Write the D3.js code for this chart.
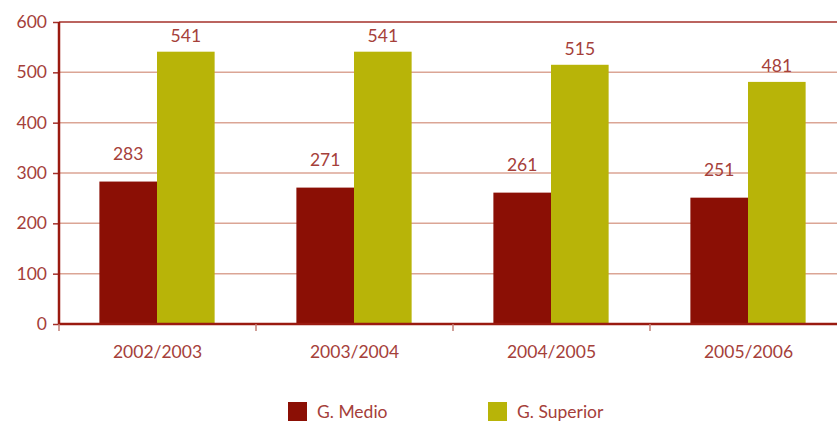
<!DOCTYPE html>
<html>
<head>
<meta charset="utf-8">
<script src="https://cdn.jsdelivr.net/npm/d3@7"></script>
<style>
body { margin: 0; background: #fff; overflow: hidden; }
svg text { font-family: "Lato", "Open Sans", sans-serif; fill: #a5403a; }
</style>
</head>
<body>
<div id="chart"></div>
<script>
var years = ["2002/2003", "2003/2004", "2004/2005", "2005/2006"];
var medio = [283, 271, 261, 251];
var superior = [541, 541, 515, 481];
var seriesNames = ["G. Medio", "G. Superior"];
var colors = ["#8b0f05", "#b8b408"];
var yTicks = [0, 100, 200, 300, 400, 500, 600];

var width = 837, height = 423;
var margin = { top: 22, right: 0, bottom: 99, left: 59 };
var w = width - margin.left - margin.right,
	h = height - margin.top - margin.bottom;
var plotW = 788; // plot runs a little past the right edge

var svg = d3.select("#chart").append("svg")
	.attr("width", width)
	.attr("height", height);

var g = svg.append("g")
	.attr("transform", "translate(" + margin.left + "," + margin.top + ")");

var x = d3.scaleBand()
	.domain(years)
	.range([0, plotW]);

var x1 = d3.scaleBand()
	.domain([0, 1])
	.range([x.bandwidth() * 0.205, x.bandwidth() * 0.79]);

var y = d3.scaleLinear()
	.domain([0, 600])
	.range([h, 0]);

// gridlines
g.append("g")
	.selectAll("line")
	.data(yTicks.slice(1, -1))
	.enter()
	.append("line")
	.attr("x1", 0).attr("x2", w)
	.attr("y1", function(d) { return y(d); })
	.attr("y2", function(d) { return y(d); })
	.style("stroke", "#dba595")
	.style("stroke-width", 1.5);

// top border
g.append("line")
	.attr("x1", 0).attr("x2", w)
	.attr("y1", y(600)).attr("y2", y(600))
	.style("stroke", "#a5302a")
	.style("stroke-width", 1.5);

// bars
var data = years.map(function(yr, i) { return { year: yr, values: [medio[i], superior[i]] }; });
var labelGap = [22, 10];

var groups = g.selectAll(".grp")
	.data(data)
	.enter()
	.append("g")
	.attr("class", "grp")
	.attr("transform", function(d) { return "translate(" + x(d.year) + ",0)"; });

groups.selectAll("rect")
	.data(function(d) { return d.values; })
	.enter()
	.append("rect")
	.attr("x", function(d, i) { return x1(i); })
	.attr("width", x1.bandwidth())
	.attr("y", function(d) { return y(d); })
	.attr("height", function(d) { return h - y(d); })
	.style("fill", function(d, i) { return colors[i]; });

groups.selectAll(".lbl")
	.data(function(d) { return d.values; })
	.enter()
	.append("text")
	.attr("class", "lbl")
	.attr("x", function(d, i) { return x1(i) + x1.bandwidth() / 2; })
	.attr("y", function(d, i) { return y(d) - labelGap[i]; })
	.attr("text-anchor", "middle")
	.style("font-size", "17.5px")
	.text(function(d) { return d; });

// y axis
var yAxis = g.append("g")
	.call(d3.axisLeft(y).tickValues(yTicks).tickSize(6).tickPadding(6));
yAxis.select(".domain").remove();
yAxis.selectAll("line").style("stroke", "#a5302a").style("stroke-width", 1.5);
yAxis.selectAll("text").style("font-size", "17.5px").style("fill", "#a5403a");

g.append("line")
	.attr("x1", 0).attr("x2", 0)
	.attr("y1", 0).attr("y2", h + 1)
	.style("stroke", "#9a1a10")
	.style("stroke-width", 2.5);

// x axis
var xAxisG = g.append("g")
	.attr("transform", "translate(0," + h + ")");

xAxisG.append("line")
	.attr("x1", 0).attr("x2", w)
	.style("stroke", "#9a1a10")
	.style("stroke-width", 2.5);

xAxisG.selectAll(".tk")
	.data(years)
	.enter()
	.append("line")
	.attr("class", "tk")
	.attr("x1", function(d) { return x(d); })
	.attr("x2", function(d) { return x(d); })
	.attr("y1", 0).attr("y2", 7)
	.style("stroke", "#c27f76")
	.style("stroke-width", 1.5);

xAxisG.selectAll(".xl")
	.data(years)
	.enter()
	.append("text")
	.attr("class", "xl")
	.attr("x", function(d) { return x(d) + x.bandwidth() / 2; })
	.attr("y", 34)
	.attr("text-anchor", "middle")
	.style("font-size", "17.5px")
	.text(function(d) { return d; });

// legend
var legend = svg.append("g");
var legX = [288, 488];
seriesNames.forEach(function(name, i) {
	legend.append("rect")
		.attr("x", legX[i]).attr("y", 402)
		.attr("width", 19).attr("height", 19)
		.style("fill", colors[i]);
	legend.append("text")
		.attr("x", legX[i] + 29).attr("y", 418)
		.style("font-size", "17.5px")
		.text(name);
});
</script>
</body>
</html>
